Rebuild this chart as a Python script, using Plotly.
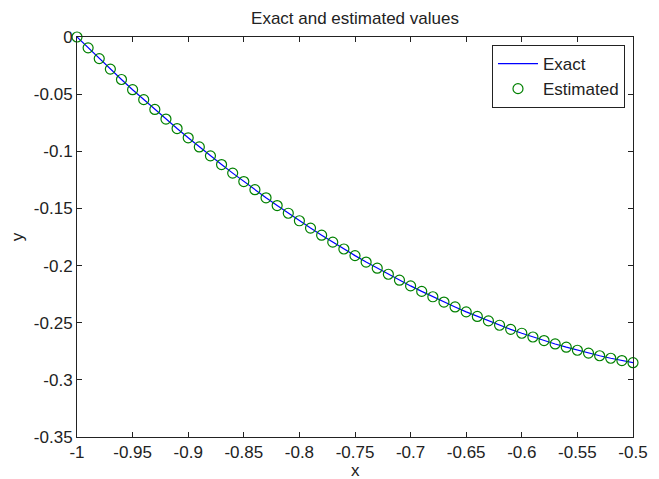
import plotly.graph_objects as go

x_values = [-1.00, -0.99, -0.98, -0.97, -0.96, -0.95, -0.94, -0.93, -0.92, -0.91,
            -0.90, -0.89, -0.88, -0.87, -0.86, -0.85, -0.84, -0.83, -0.82, -0.81,
            -0.80, -0.79, -0.78, -0.77, -0.76, -0.75, -0.74, -0.73, -0.72, -0.71,
            -0.70, -0.69, -0.68, -0.67, -0.66, -0.65, -0.64, -0.63, -0.62, -0.61,
            -0.60, -0.59, -0.58, -0.57, -0.56, -0.55, -0.54, -0.53, -0.52, -0.51,
            -0.50]

exact_values = [0.0000, -0.0095, -0.0189, -0.0281, -0.0372, -0.0461, -0.0548, -0.0634, -0.0718, -0.0801,
                -0.0882, -0.0962, -0.1040, -0.1116, -0.1191, -0.1265, -0.1336, -0.1407, -0.1475, -0.1542,
                -0.1608, -0.1672, -0.1734, -0.1795, -0.1855, -0.1913, -0.1969, -0.2023, -0.2076, -0.2128,
                -0.2178, -0.2226, -0.2273, -0.2319, -0.2362, -0.2405, -0.2445, -0.2484, -0.2522, -0.2558,
                -0.2592, -0.2625, -0.2656, -0.2686, -0.2714, -0.2741, -0.2766, -0.2789, -0.2811, -0.2831,
                -0.2850]

estimated_values = [0.0000, -0.0095, -0.0189, -0.0281, -0.0372, -0.0461, -0.0548, -0.0634, -0.0718, -0.0801,
                    -0.0882, -0.0962, -0.1040, -0.1116, -0.1191, -0.1265, -0.1336, -0.1407, -0.1475, -0.1542,
                    -0.1608, -0.1672, -0.1734, -0.1795, -0.1855, -0.1913, -0.1969, -0.2023, -0.2076, -0.2128,
                    -0.2178, -0.2226, -0.2273, -0.2319, -0.2362, -0.2405, -0.2445, -0.2484, -0.2522, -0.2558,
                    -0.2592, -0.2625, -0.2656, -0.2686, -0.2714, -0.2741, -0.2766, -0.2789, -0.2811, -0.2831,
                    -0.2850]

x_tick_vals = [-1, -0.95, -0.9, -0.85, -0.8, -0.75, -0.7, -0.65, -0.6, -0.55, -0.5]
x_tick_text = ["-1", "-0.95", "-0.9", "-0.85", "-0.8", "-0.75", "-0.7", "-0.65", "-0.6", "-0.55", "-0.5"]
y_tick_vals = [0, -0.05, -0.1, -0.15, -0.2, -0.25, -0.3, -0.35]
y_tick_text = ["0", "-0.05", "-0.1", "-0.15", "-0.2", "-0.25", "-0.3", "-0.35"]

FONT = "Liberation Sans, Arial, sans-serif"
FS = 17
INK = "#222222"

fig = go.Figure()
fig.add_trace(go.Scatter(
    x=x_values, y=exact_values, mode="lines", name="Exact",
    line=dict(color="#0000ff", width=1.2), cliponaxis=False,
))
fig.add_trace(go.Scatter(
    x=x_values, y=estimated_values, mode="markers", name="Estimated",
    marker=dict(symbol="circle-open", size=10, color="#008000", line=dict(width=1.2, color="#008000")),
    cliponaxis=False,
))

axis_common = dict(
    showgrid=False, zeroline=False, showline=True, linecolor=INK, linewidth=1,
    mirror="ticks", ticks="inside", ticklen=5, tickcolor=INK, tickwidth=1,
    tickfont=dict(family=FONT, size=FS, color=INK), automargin=False,
)

# page body has an 8px margin, so the figure is 8px smaller and margins compensate
fig.update_layout(
    width=651, height=471,
    margin=dict(l=69, r=26, t=29, b=42),
    paper_bgcolor="white", plot_bgcolor="white",
    title=dict(text="Exact and estimated values", x=(69 + 278) / 651, xanchor="center",
               y=1 - 10 / 471, yanchor="middle", yref="container",
               font=dict(family=FONT, size=FS, color=INK)),
    xaxis=dict(range=[-1, -0.5], tickvals=x_tick_vals, ticktext=x_tick_text, **axis_common),
    yaxis=dict(range=[-0.35, 0], tickvals=y_tick_vals, ticktext=y_tick_text,
               title=dict(text="y", font=dict(family=FONT, size=FS, color=INK), standoff=11),
               **axis_common),
    showlegend=True,
    legend=dict(x=0.9856, xanchor="right", y=0.98, yanchor="top",
                bgcolor="white", bordercolor=INK, borderwidth=1,
                font=dict(family=FONT, size=FS, color=INK),
                tracegroupgap=0, itemwidth=40),
    annotations=[dict(text="x", xref="paper", yref="paper", x=0.5, y=-0.0825,
                      xanchor="center", yanchor="middle", height=16, valign="middle",
                      showarrow=False, borderpad=0,
                      font=dict(family=FONT, size=FS, color=INK))],
)

fig.write_html("out.html")
